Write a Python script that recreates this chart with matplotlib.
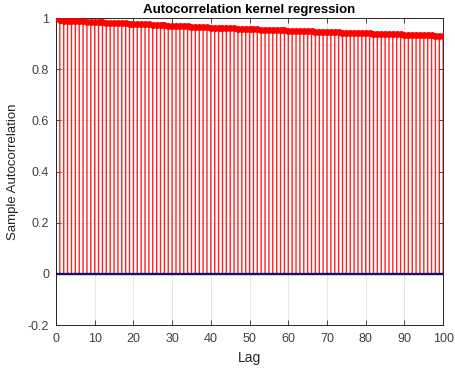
import numpy as np
import matplotlib
matplotlib.use("Agg")
import matplotlib.pyplot as plt

plt.rcParams['font.family'] = ['Liberation Sans', 'DejaVu Sans']

# Sample autocorrelation of the kernel regression residuals, lags 0..100
lags = list(range(0, 101))
acf = [
    1.000, 0.991, 0.990, 0.989, 0.989, 0.988, 0.987, 0.987, 0.986, 0.985,
    0.984, 0.984, 0.983, 0.982, 0.982, 0.981, 0.980, 0.980, 0.979, 0.978,
    0.977, 0.977, 0.976, 0.975, 0.975, 0.974, 0.973, 0.973, 0.972, 0.971,
    0.970, 0.970, 0.969, 0.968, 0.968, 0.967, 0.966, 0.966, 0.965, 0.964,
    0.963, 0.963, 0.962, 0.962, 0.961, 0.960, 0.960, 0.959, 0.958, 0.958,
    0.957, 0.956, 0.956, 0.955, 0.955, 0.954, 0.953, 0.953, 0.952, 0.952,
    0.951, 0.950, 0.950, 0.949, 0.949, 0.948, 0.948, 0.947, 0.946, 0.946,
    0.945, 0.945, 0.944, 0.944, 0.943, 0.943, 0.942, 0.942, 0.941, 0.941,
    0.940, 0.940, 0.939, 0.939, 0.938, 0.938, 0.937, 0.937, 0.936, 0.936,
    0.935, 0.935, 0.934, 0.934, 0.933, 0.933, 0.932, 0.932, 0.931, 0.931,
    0.930,
]
bounds = [0.002, -0.002]

fig = plt.figure(figsize=(4.55, 3.69), dpi=100)
ax = fig.add_axes([0.123, 0.119, 0.851, 0.832])

ax.grid(True, color='#e6e6e6', linewidth=0.7)
ax.set_axisbelow(True)

stems = ax.vlines(lags, 0, acf, colors='#ff2020', linewidth=1.0, zorder=2)
stems.set_snap(False)
ax.plot(lags, acf, 'o', color='#ff0000', markersize=5, markeredgewidth=0, zorder=3)
for b in bounds:
    ax.axhline(b, color='#10107a', linewidth=1.0, zorder=4)

ax.set_xlim(0, 100)
ax.set_ylim(-0.2, 1)
ax.set_xticks(range(0, 101, 10))
ax.set_yticks([-0.2, 0, 0.2, 0.4, 0.6, 0.8, 1])
ax.set_yticklabels(['-0.2', '0', '0.2', '0.4', '0.6', '0.8', '1'])
ax.tick_params(direction='in', top=True, right=True, length=3.5, width=0.7,
               colors='#404040', labelsize=9)
ax.tick_params(axis='x', pad=6)
ax.tick_params(axis='y', pad=5)
for s in ax.spines.values():
    s.set_color('#262626')
    s.set_linewidth(0.7)

ax.set_title('Autocorrelation kernel regression', fontsize=9.5, fontweight='bold',
             color='black', pad=4)
ax.set_xlabel('Lag', fontsize=10, color='#262626', labelpad=4)
ax.set_ylabel('Sample Autocorrelation', fontsize=9.5, color='#262626', labelpad=6)

fig.savefig('out.png', dpi=100)
